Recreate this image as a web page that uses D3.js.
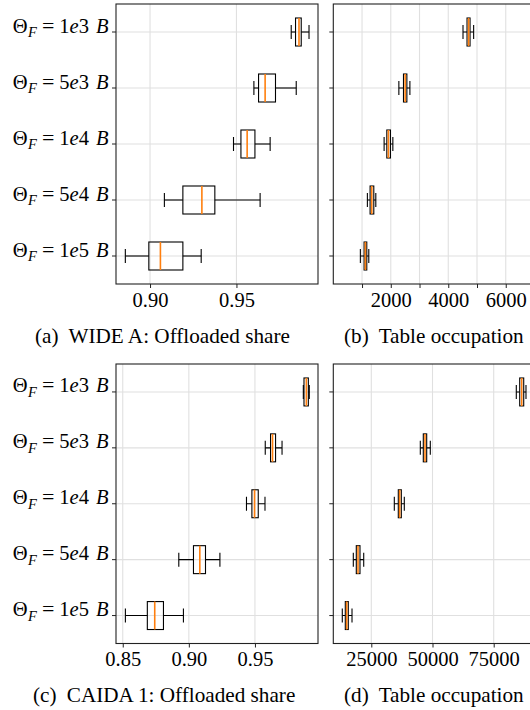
<!DOCTYPE html>
<html><head><meta charset="utf-8">
<script src="https://cdn.jsdelivr.net/npm/d3@7"></script>
<style>
html,body{margin:0;padding:0;background:#fff;}
svg{display:block;}
</style></head><body>
<svg id="fig" width="530" height="710"></svg>
<script>
// Flow-size thresholds, listed top row first
const thresholds = ["1e3", "5e3", "1e4", "5e4", "1e5"];

// Five-number summaries per threshold: [lower whisker, Q1, median, Q3, upper whisker]
const wideShare = [
  [0.9817, 0.9842, 0.9862, 0.9875, 0.9920],
  [0.9601, 0.9628, 0.9666, 0.9726, 0.9846],
  [0.9483, 0.9526, 0.9562, 0.9607, 0.9695],
  [0.9083, 0.9190, 0.9300, 0.9375, 0.9637],
  [0.8857, 0.8993, 0.9060, 0.9190, 0.9296]
];
const wideTable = [
  [4513, 4653, 4709, 4758, 4883],
  [2281, 2442, 2501, 2560, 2665],
  [1768, 1862, 1918, 1988, 2072],
  [1186, 1280, 1339, 1409, 1479],
  [942, 1071, 1116, 1165, 1235]
];
const caidaShare = [
  [0.9866, 0.9871, 0.9889, 0.9904, 0.9911],
  [0.9578, 0.9618, 0.9633, 0.9656, 0.9705],
  [0.9436, 0.9477, 0.9497, 0.9525, 0.9576],
  [0.8924, 0.9035, 0.9083, 0.9126, 0.9235],
  [0.8520, 0.8686, 0.8742, 0.8808, 0.8959]
];
const caidaTable = [
  [84230, 85620, 86440, 87260, 88190],
  [45020, 46240, 46940, 47630, 49100],
  [34400, 36030, 36600, 37260, 38480],
  [17650, 18870, 19570, 20380, 21900],
  [13150, 14380, 14950, 15600, 17120]
];

// Axis ticks and their labels
const shareTicksWide = [0.90, 0.95];
const shareTicksCaida = [0.85, 0.90, 0.95];
const tableTicksWide = [1000, 2000, 3000, 4000, 5000, 6000];
const tableLabelsWide = ["", "2000", "", "4000", "", "6000"];
const tableTicksCaida = [25000, 50000, 75000];

const captions = [
  ["(a)", "WIDE A: Offloaded share"],
  ["(b)", "Table occupation"],
  ["(c)", "CAIDA 1: Offloaded share"],
  ["(d)", "Table occupation"]
];

const SERIF = '"Liberation Serif", "DejaVu Serif", "Times New Roman", serif';
const svg = d3.select("#fig").attr("font-family", SERIF);
const FS = 20.5;
const CAP_FS = 21.2;

function panel(cfg) {
  const g = svg.append("g");
  const x = d3.scaleLinear().domain(cfg.xDomain).range([cfg.left, cfg.right]);
  const y = d3.scaleLinear().domain([0.5, 5.5]).range([cfg.bottom, cfg.top]);
  const pos = i => 5 - i; // first threshold drawn at the top
  const clipId = "clip" + cfg.id;
  g.append("clipPath").attr("id", clipId).append("rect")
    .attr("x", cfg.left).attr("y", cfg.top)
    .attr("width", cfg.right - cfg.left).attr("height", cfg.bottom - cfg.top);

  const plot = g.append("g").attr("clip-path", `url(#${clipId})`);
  // grid
  plot.selectAll("line.vg").data(cfg.ticks).join("line")
    .attr("x1", d => x(d)).attr("x2", d => x(d))
    .attr("y1", cfg.top).attr("y2", cfg.bottom)
    .attr("stroke", "#e0e0e0").attr("stroke-width", 1.1);
  plot.selectAll("line.hg").data(thresholds).join("line")
    .attr("x1", cfg.left).attr("x2", cfg.right)
    .attr("y1", (d, i) => y(pos(i))).attr("y2", (d, i) => y(pos(i)))
    .attr("stroke", "#e0e0e0").attr("stroke-width", 1.1);

  const half = (y(0) - y(0.25)); // half box height (box width 0.5)
  const cap = half / 2;
  const boxes = plot.selectAll("g.box").data(cfg.stats).join("g");
  boxes.each(function (s, i) {
    const b = d3.select(this);
    const cy = y(pos(i));
    const [wl, q1, md, q3, wh] = s;
    const line = (x1, y1, x2, y2, col, w) => b.append("line")
      .attr("x1", x1).attr("y1", y1).attr("x2", x2).attr("y2", y2)
      .attr("stroke", col).attr("stroke-width", w);
    line(x(wl), cy, x(q1), cy, "#000", 1.1);
    line(x(q3), cy, x(wh), cy, "#000", 1.1);
    line(x(wl), cy - cap, x(wl), cy + cap, "#000", 1.1);
    line(x(wh), cy - cap, x(wh), cy + cap, "#000", 1.1);
    b.append("rect").attr("x", x(q1)).attr("y", cy - half)
      .attr("width", x(q3) - x(q1)).attr("height", 2 * half)
      .attr("fill", "none").attr("stroke", "#000").attr("stroke-width", 1.1);
    line(x(md), cy - half, x(md), cy + half, "#ff7f0e", 1.6);
  });

  // frame
  g.append("rect").attr("x", cfg.left).attr("y", cfg.top)
    .attr("width", cfg.right - cfg.left).attr("height", cfg.bottom - cfg.top)
    .attr("fill", "none").attr("stroke", "#222").attr("stroke-width", 1.1);

  // x axis
  const xa = d3.axisBottom(x).tickValues(cfg.ticks).tickSize(4).tickPadding(3)
    .tickFormat((d, i) => cfg.tickLabels ? cfg.tickLabels[i] : d3.format(cfg.fmt)(d));
  const gx = g.append("g").attr("transform", `translate(0,${cfg.bottom})`).call(xa)
    .attr("font-family", SERIF).attr("font-size", FS);
  gx.select(".domain").remove();
  gx.selectAll(".tick line").attr("stroke", "#222");
  gx.selectAll(".tick text").attr("dy", null).attr("y", 22.5).attr("fill", "#000");

  // y ticks
  g.selectAll("line.yt").data(thresholds).join("line")
    .attr("x1", cfg.left - 4).attr("x2", cfg.left)
    .attr("y1", (d, i) => y(pos(i))).attr("y2", (d, i) => y(pos(i)))
    .attr("stroke", "#222");

  if (cfg.yLabels) {
    thresholds.forEach((t, i) => {
      const cy = y(pos(i));
      const txt = g.append("text").attr("x", cfg.left - 7.5).attr("y", cy + 0.5)
        .attr("text-anchor", "end").attr("font-size", FS).attr("font-family", SERIF);
      txt.append("tspan").text("Θ");
      txt.append("tspan").attr("font-style", "italic").attr("font-size", 14.5)
        .attr("dy", 4.5).attr("dx", 0.5).text("F");
      txt.append("tspan").attr("dy", -4.5).attr("dx", 5).attr("font-size", 22).text("=");
      txt.append("tspan").attr("dx", 5).text(t[0]);
      txt.append("tspan").attr("font-style", "italic").text(t[1]);
      txt.append("tspan").text(t[2]);
      txt.append("tspan").attr("font-style", "italic").attr("dx", 7).text("B");
    });
  }

  // caption
  const capText = svg.append("text").attr("x", cfg.capX).attr("y", cfg.capY)
    .attr("font-size", CAP_FS).attr("font-family", SERIF);
  capText.append("tspan").text(cfg.caption[0]);
  capText.append("tspan").attr("dx", 5).text(" " + cfg.caption[1]);
}

panel({ id: "a", left: 116, right: 318, top: 4, bottom: 284, xDomain: [0.8803, 0.9972],
  stats: wideShare, ticks: shareTicksWide, fmt: ".2f", yLabels: true,
  caption: captions[0], capX: 35, capY: 342.5 });
panel({ id: "b", left: 333.3, right: 535, top: 4, bottom: 284, xDomain: [0, 7018],
  stats: wideTable, ticks: tableTicksWide, tickLabels: tableLabelsWide, yLabels: false,
  caption: captions[1], capX: 344, capY: 342.5 });
panel({ id: "c", left: 116, right: 318, top: 364, bottom: 643.5, xDomain: [0.8449, 0.9977],
  stats: caidaShare, ticks: shareTicksCaida, fmt: ".2f", yLabels: true,
  caption: captions[2], capX: 33, capY: 701.5 });
panel({ id: "d", left: 333.3, right: 535, top: 364, bottom: 643.5, xDomain: [9477, 91870],
  stats: caidaTable, ticks: tableTicksCaida, fmt: "d", yLabels: false,
  caption: captions[3], capX: 344, capY: 701.5 });
</script>
</body></html>
